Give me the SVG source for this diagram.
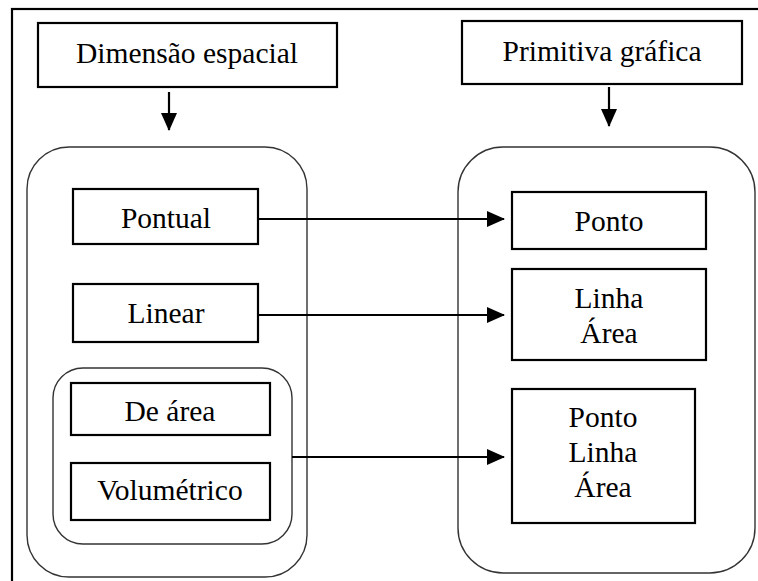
<svg xmlns="http://www.w3.org/2000/svg" width="758" height="581" viewBox="0 0 758 581">
<defs>
<style>
.box{fill:#fff;stroke:#000;stroke-width:2.2}
.cont{fill:none;stroke:#333;stroke-width:1.4}
.c{stroke:#000;stroke-width:2.2;fill:none}
</style>
<marker id="ah2" markerWidth="18" markerHeight="16" refX="17" refY="8" orient="auto" markerUnits="userSpaceOnUse">
<path d="M0,0 L18,8 L0,16 Z" fill="#000"/>
</marker>
</defs>
<rect x="0" y="0" width="758" height="581" fill="#fff"/>
<rect x="12" y="9" width="770" height="600" fill="none" stroke="#000" stroke-width="2.2"/>

<g font-family="'Liberation Serif', 'Times New Roman', serif" font-size="29.5" text-anchor="middle" fill="#000">
<g id="dimensao">
<rect class="box" x="38" y="23" width="299" height="64"/>
<text x="187" y="63">Dimensão espacial</text>
</g>
<g id="primitiva">
<rect class="box" x="462" y="21" width="280" height="63"/>
<text x="602" y="61">Primitiva gráfica</text>
</g>

<g id="container-left">
<rect class="cont" x="27" y="147" width="280" height="430" rx="42" ry="42"/>
</g>
<g id="container-inner">
<rect class="cont" x="53" y="368" width="239" height="176" rx="30" ry="30"/>
</g>
<g id="container-right">
<rect class="cont" x="458" y="147" width="297" height="426" rx="45" ry="45"/>
</g>

<g id="pontual">
<rect class="box" x="73" y="189" width="185" height="55"/>
<text x="166" y="228">Pontual</text>
</g>
<g id="linear">
<rect class="box" x="73" y="284" width="185" height="58"/>
<text x="166" y="323">Linear</text>
</g>
<g id="dearea">
<rect class="box" x="71" y="383" width="199" height="52"/>
<text x="170" y="421">De área</text>
</g>
<g id="volumetrico">
<rect class="box" x="71" y="463" width="199" height="57"/>
<text x="170" y="500">Volumétrico</text>
</g>

<g id="ponto">
<rect class="box" x="512" y="192" width="194" height="57"/>
<text x="609" y="231">Ponto</text>
</g>
<g id="linha-area">
<rect class="box" x="512" y="269" width="194" height="91"/>
<text x="609" y="308">Linha</text>
<text x="609" y="343">Área</text>
</g>
<g id="ponto-linha-area">
<rect class="box" x="512" y="389" width="183" height="134"/>
<text x="603" y="427">Ponto</text>
<text x="603" y="462">Linha</text>
<text x="603" y="497">Área</text>
</g>
</g>

<g id="connectors">
<line class="c" x1="169" y1="92" x2="169" y2="130" marker-end="url(#ah2)"/>
<line class="c" x1="609" y1="87" x2="609" y2="126" marker-end="url(#ah2)"/>
<line class="c" x1="258" y1="219" x2="504" y2="219" marker-end="url(#ah2)"/>
<line class="c" x1="258" y1="315" x2="504" y2="315" marker-end="url(#ah2)"/>
<line class="c" x1="292" y1="457" x2="504" y2="457" marker-end="url(#ah2)"/>
</g>
</svg>
